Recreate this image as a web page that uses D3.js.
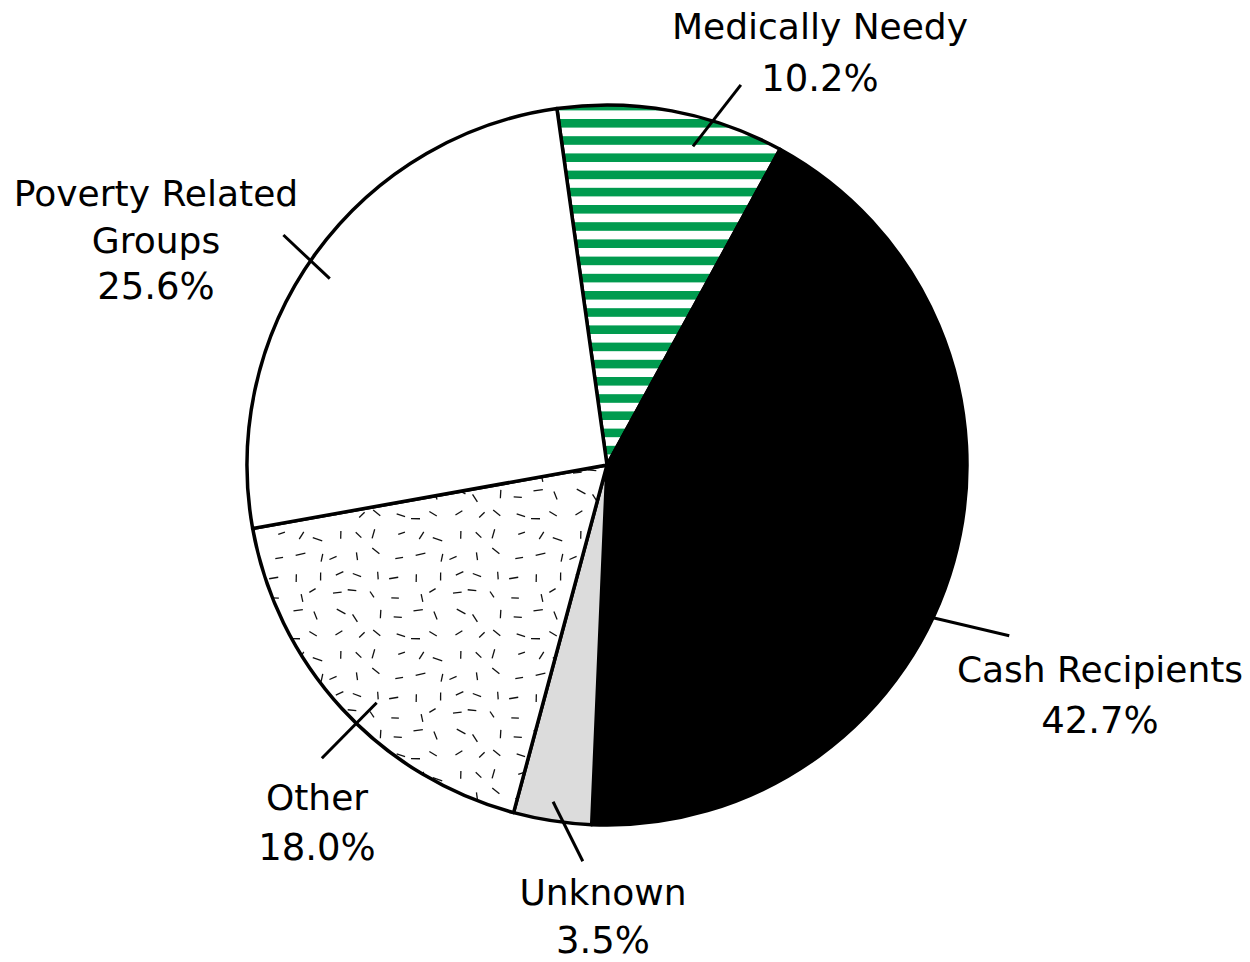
<!DOCTYPE html>
<html>
<head>
<meta charset="utf-8">
<script src="https://cdn.jsdelivr.net/npm/d3@7/dist/d3.min.js"></script>
<style>
  body { margin: 0; background: #fff; }
  text { font-family: "DejaVu Sans", sans-serif; fill: #000; }
</style>
</head>
<body>
<svg id="chart"></svg>
<script>
var width = 1250;
var height = 962;

// slices, clockwise from the top
var categories = ["Medically Needy", "Cash Recipients", "Unknown", "Other", "Poverty Related Groups"];
var values = [10.2, 42.7, 3.5, 18.0, 25.6];
var valueLabels = ["10.2%", "42.7%", "3.5%", "18.0%", "25.6%"];
var nameLines = [["Medically Needy"], ["Cash Recipients"], ["Unknown"], ["Other"], ["Poverty Related", "Groups"]];

// how each slice is filled
var fills = ["url(#stripes)", "#000", "#dcdcdc", "url(#dashes)", "#fff"];

// label placement: text centre x, baselines of the name lines, baseline of the percent
var labelPos = [
  { x: 820, lines: [39], pct: 91 },
  { x: 1100, lines: [682], pct: 733 },
  { x: 603, lines: [905], pct: 953 },
  { x: 317, lines: [810], pct: 860 },
  { x: 156, lines: [206, 253], pct: 299 }
];
// leader lines in polar form around the pie centre (degrees clockwise from top, radius)
var leaders = [
  { a0: 15.1, r0: 330, a1: 19.4, r1: 403 },
  { a0: 115.1, r0: 360, a1: 113.0, r1: 437 },
  { a0: 189.1, r0: 341, a1: 183.5, r1: 397 },
  { a0: 224.1, r0: 331, a1: 224.2, r1: 409 },
  { a0: -56.1, r0: 334, a1: -54.6, r1: 397 }
];

var cx = 607, cy = 465, radius = 360;
var rad = Math.PI / 180;

var svg = d3.select("#chart")
    .attr("width", width)
    .attr("height", height);

svg.append("rect").attr("width", width).attr("height", height).attr("fill", "#fff");

var defs = svg.append("defs");

// green horizontal stripes
var stripes = defs.append("pattern")
    .attr("id", "stripes")
    .attr("patternUnits", "userSpaceOnUse")
    .attr("x", 0).attr("y", 15.2)
    .attr("width", 40).attr("height", 17.2);
stripes.append("rect").attr("width", 40).attr("height", 17.2).attr("fill", "#fff");
stripes.append("rect").attr("width", 40).attr("height", 8.6).attr("fill", "#009b4f");

// scattered short dashes
var dashes = defs.append("pattern")
    .attr("id", "dashes")
    .attr("patternUnits", "userSpaceOnUse")
    .attr("width", 120).attr("height", 120);
dashes.append("rect").attr("width", 120).attr("height", 120).attr("fill", "#fff");
var seed = 11;
function rnd() { seed = (seed * 16807) % 2147483647; return seed / 2147483647; }
var ticks = [];
for (var i = 0; i < 6; i++) {
  for (var j = 0; j < 6; j++) {
    var px = i * 20 + 5 + rnd() * 10,
        py = j * 20 + 5 + rnd() * 10,
        ang = rnd() * Math.PI,
        len = 7 + rnd() * 3;
    ticks.push({ x1: px - Math.cos(ang) * len / 2, y1: py - Math.sin(ang) * len / 2,
                 x2: px + Math.cos(ang) * len / 2, y2: py + Math.sin(ang) * len / 2 });
  }
}
dashes.selectAll("line")
    .data(ticks)
    .enter().append("line")
    .attr("x1", function(d) { return d.x1; })
    .attr("y1", function(d) { return d.y1; })
    .attr("x2", function(d) { return d.x2; })
    .attr("y2", function(d) { return d.y2; })
    .attr("stroke", "#111")
    .attr("stroke-width", 1.3);

var pie = d3.pie()
    .sort(null)
    .startAngle(-8 * rad)
    .endAngle(352 * rad);

var arc = d3.arc()
    .innerRadius(0)
    .outerRadius(radius);

var g = svg.append("g").attr("transform", "translate(" + cx + "," + cy + ")");

g.selectAll("path.slice")
    .data(pie(values))
    .enter().append("path")
    .attr("class", "slice")
    .attr("d", arc)
    .attr("fill", function(d, i) { return fills[i]; })
    .attr("stroke", "#000")
    .attr("stroke-width", 3.5)
    .attr("stroke-linejoin", "round");

// leader lines
g.selectAll("line.leader")
    .data(leaders)
    .enter().append("line")
    .attr("class", "leader")
    .attr("x1", function(d) { return d3.pointRadial(d.a0 * rad, d.r0)[0]; })
    .attr("y1", function(d) { return d3.pointRadial(d.a0 * rad, d.r0)[1]; })
    .attr("x2", function(d) { return d3.pointRadial(d.a1 * rad, d.r1)[0]; })
    .attr("y2", function(d) { return d3.pointRadial(d.a1 * rad, d.r1)[1]; })
    .attr("stroke", "#000")
    .attr("stroke-width", 3);

// labels
var labels = svg.selectAll("g.label")
    .data(categories)
    .enter().append("g")
    .attr("class", "label");

labels.each(function(c, i) {
  var sel = d3.select(this);
  nameLines[i].forEach(function(t, k) {
    sel.append("text")
      .attr("x", labelPos[i].x)
      .attr("y", labelPos[i].lines[k])
      .attr("text-anchor", "middle")
      .attr("font-size", 36)
      .text(t);
  });
  sel.append("text")
    .attr("x", labelPos[i].x)
    .attr("y", labelPos[i].pct)
    .attr("text-anchor", "middle")
    .attr("font-size", 37)
    .text(valueLabels[i]);
});
</script>
</body>
</html>
